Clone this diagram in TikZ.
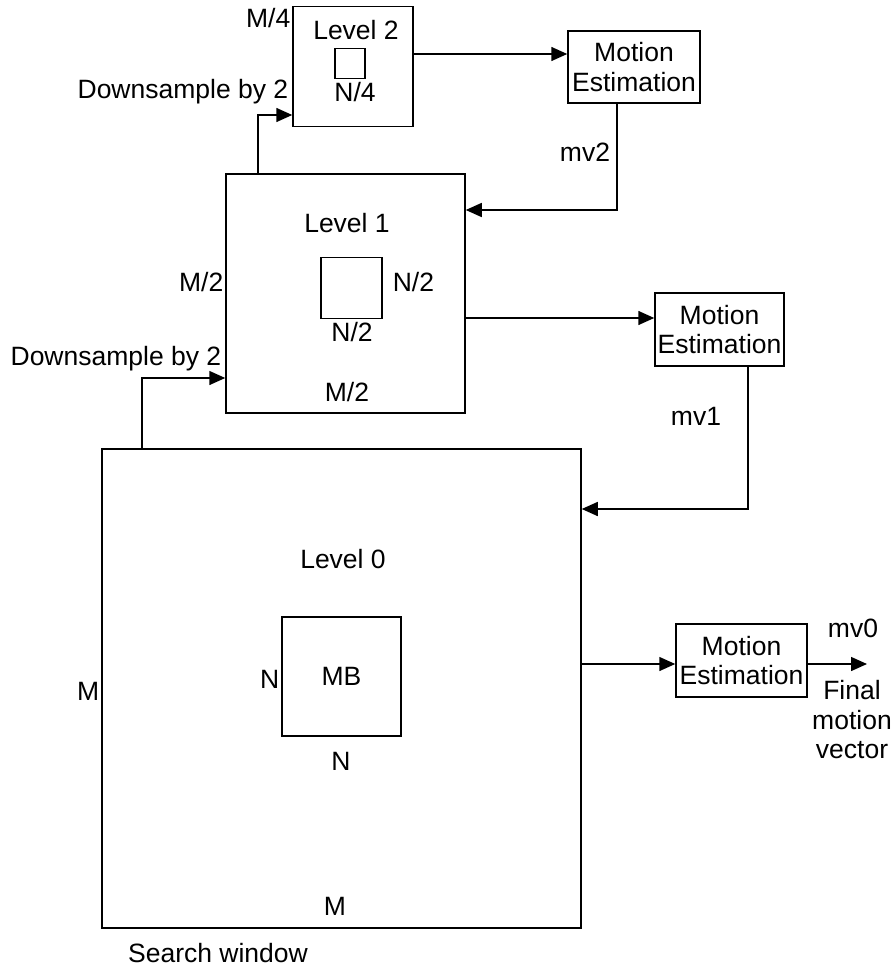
\documentclass[tikz,border=0pt]{standalone}
\usepackage{fontspec}
\setmainfont{Liberation Sans}
\usetikzlibrary{arrows.meta}

\begin{document}
\begin{tikzpicture}[x=1pt, y=-1pt, line width=1.5pt,
    every node/.style={font=\fontsize{26.5}{29.5}\selectfont, inner sep=0pt},
    box/.style={draw, minimum size=#1},
    mebox/.style={draw, align=center, minimum width=131pt, minimum height=73pt},
    lbl/.style={anchor=base},
    arr/.style={-{Triangle[length=16pt, width=14pt]}}]
    \useasboundingbox (0,0) rectangle (894,968);

    %Level 2 (M/4 window, N/4 block)
    \node (l2) at (353,66.5) [box=120pt] {};
    \node (nb2) at (350,63.5) [box=30pt] {};
    \node (t2) at (356,40) [lbl] {Level 2};
    \node (n4) at (355,102) [lbl] {N/4};
    \node (m4) at (291,28) [lbl, anchor=base east] {M/4};
    \node (ds2) at (289,99) [lbl, anchor=base east] {Downsample by 2};

    %Level 1 (M/2 window, N/2 block)
    \node (l1) at (345.5,293.5) [box=239pt] {};
    \node (nb1) at (351.5,288) [box=61pt] {};
    \node (t1) at (347,233) [lbl] {Level 1};
    \node (n2r) at (392,291) [lbl, anchor=base west] {N/2};
    \node (n2b) at (352,341) [lbl] {N/2};
    \node (m2l) at (224,291) [lbl, anchor=base east] {M/2};
    \node (m2b) at (347,401) [lbl] {M/2};
    \node (ds1) at (222,365) [lbl, anchor=base east] {Downsample by 2};

    %Level 0 (M window, N block)
    \node (l0) at (341.5,688.5) [box=479pt] {};
    \node (mb) at (341.5,676.5) [box=119pt] {MB};
    \node (t0) at (343,568) [lbl] {Level 0};
    \node (nl) at (280,688) [lbl, anchor=base east] {N};
    \node (nb) at (341,770) [lbl] {N};
    \node (ml) at (100,700) [lbl, anchor=base east] {M};
    \node (mbt) at (335,915) [lbl] {M};
    \node (sw) at (218,962) [lbl] {Search window};

    %Motion estimation blocks
    \node (me2) at (634,67) [mebox, minimum width=132pt, minimum height=72pt] {Motion\\Estimation};
    \node (me1) at (719.5,329.5) [mebox, minimum width=129pt] {Motion\\Estimation};
    \node (me0) at (741.5,660.5) [mebox] {Motion\\Estimation};
    \node (mv2) at (585,162) [lbl] {mv2};
    \node (mv1) at (696,425) [lbl] {mv1};
    \node (mv0) at (853,637) [lbl] {mv0};
    \node (fmv) at (852,680) [anchor=north, align=center] {Final\\motion\\vector};

    %bend points
    \coordinate (d2) at (258,115);
    \coordinate (d1) at (142,378);
    \coordinate (k2) at (617,210);
    \coordinate (k1) at (748,509);
    \coordinate (r2) at (0,54);
    \coordinate (r1) at (0,318);
    \coordinate (r0) at (0,664);
    \coordinate (fin) at (867,664);

    %downsampling
    \draw[arr] (l1.north -| d2) -- (d2) -- (l2.west |- d2);
    \draw[arr] (l0.north -| d1) -- (d1) -- (l1.west |- d1);

    %into motion estimation
    \draw[arr] (l2.east |- r2) -- (me2.west |- r2);
    \draw[arr] (l1.east |- r1) -- (me1.west |- r1);
    \draw[arr] (l0.east |- r0) -- (me0.west |- r0);

    %motion vectors passed down
    \draw[arr] (me2.south -| k2) -- (k2) -- (l1.east |- k2);
    \draw[arr] (me1.south -| k1) -- (k1) -- (l0.east |- k1);
    \draw[arr] (me0.east |- r0) -- (fin);

\end{tikzpicture}
\end{document}
